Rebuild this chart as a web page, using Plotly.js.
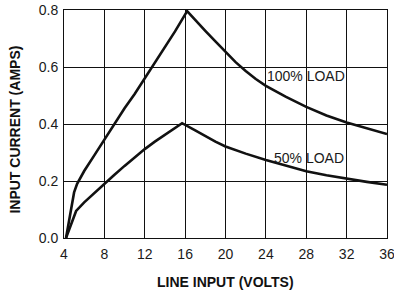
<!DOCTYPE html>
<html>
<head>
<meta charset="utf-8">
<script src="https://cdn.plot.ly/plotly-3.0.1.min.js"></script>
<style>
html,body{margin:0;padding:0;background:#fff;}
#chart{width:394px;height:291px;}
</style>
</head>
<body>
<div id="chart"></div>
<script>
// Data
const volts100 = [4.2, 5.0, 5.3, 6.0, 7.0, 8.0, 9.0, 10.0, 11.0, 12.0, 13.0, 14.0, 15.0, 16.2, 17.0, 18.0, 19.0, 20.0, 21.0, 22.0, 23.0, 24.0, 26.0, 28.0, 30.0, 32.0, 34.0, 36.0];
const amps100  = [0.0, 0.16, 0.19, 0.235, 0.29, 0.345, 0.40, 0.455, 0.505, 0.56, 0.615, 0.67, 0.725, 0.796, 0.764, 0.727, 0.69, 0.653, 0.617, 0.586, 0.558, 0.534, 0.495, 0.46, 0.43, 0.405, 0.385, 0.365];
const volts50  = [4.2, 5.2, 6.0, 7.0, 8.0, 9.0, 10.0, 11.0, 12.0, 13.0, 14.0, 15.0, 15.7, 17.0, 18.0, 19.0, 20.0, 22.0, 24.0, 26.0, 28.0, 30.0, 32.0, 34.0, 36.0];
const amps50   = [0.0, 0.095, 0.125, 0.158, 0.19, 0.222, 0.253, 0.283, 0.312, 0.338, 0.362, 0.385, 0.403, 0.378, 0.357, 0.338, 0.321, 0.296, 0.274, 0.253, 0.234, 0.22, 0.208, 0.197, 0.187];
const xTicks = [4, 8, 12, 16, 20, 24, 28, 32, 36];
const yTicks = [0.0, 0.2, 0.4, 0.6, 0.8];
const seriesLabels = ["100% LOAD", "50% LOAD"];
const xTitle = "LINE INPUT (VOLTS)";
const yTitle = "INPUT CURRENT (AMPS)";

const FONT = "Arial, 'Liberation Sans', Helvetica, sans-serif";
const INK = "#111";

const traces = [
  {x: volts100, y: amps100, mode: "lines", name: seriesLabels[0],
   line: {color: INK, width: 2.6}, hoverinfo: "skip"},
  {x: volts50, y: amps50, mode: "lines", name: seriesLabels[1],
   line: {color: INK, width: 2.6}, hoverinfo: "skip"}
];

const layout = {
  width: 394, height: 291,
  margin: {l: 64, r: 7, t: 10, b: 53, pad: 0},
  paper_bgcolor: "#fff", plot_bgcolor: "#fff",
  showlegend: false,
  font: {family: FONT, size: 14, color: "#1a1a1a"},
  xaxis: {
    range: [4, 36], tickmode: "array", tickvals: xTicks, ticktext: xTicks.map(String),
    showgrid: true, gridcolor: INK, gridwidth: 1,
    showline: true, linecolor: INK, linewidth: 1, mirror: true,
    zeroline: false, ticks: "", fixedrange: true,
    ticklabeloverflow: "allow", ticklabelstandoff: 3,
    tickfont: {family: FONT, size: 14, color: "#1a1a1a"}
  },
  yaxis: {
    range: [0, 0.8], tickmode: "array", tickvals: yTicks, ticktext: yTicks.map(v => v.toFixed(1)),
    showgrid: true, gridcolor: INK, gridwidth: 1,
    showline: true, linecolor: INK, linewidth: 1, mirror: true,
    zeroline: false, ticks: "", fixedrange: true,
    ticklabelstandoff: 2,
    tickfont: {family: FONT, size: 14, color: "#1a1a1a"}
  },
  annotations: [
    {x: 28.0, y: 0.567, xref: "x", yref: "y", text: seriesLabels[0], showarrow: false,
     font: {family: FONT, size: 14, color: "#1a1a1a"}, xanchor: "center", yanchor: "middle"},
    {x: 28.3, y: 0.281, xref: "x", yref: "y", text: seriesLabels[1], showarrow: false,
     font: {family: FONT, size: 14, color: "#1a1a1a"}, xanchor: "center", yanchor: "middle"},
    {x: 0.5, y: -0.195, xref: "paper", yref: "paper", text: "<b>" + xTitle + "</b>", showarrow: false,
     font: {family: FONT, size: 14, color: "#111"}, xanchor: "center", yanchor: "middle"},
    {x: -0.152, y: 0.475, xref: "paper", yref: "paper", text: "<b>" + yTitle + "</b>", showarrow: false,
     textangle: -90, font: {family: FONT, size: 14, color: "#111"}, xanchor: "center", yanchor: "middle"}
  ]
};

Plotly.newPlot("chart", traces, layout, {displayModeBar: false, staticPlot: true});
</script>
</body>
</html>
